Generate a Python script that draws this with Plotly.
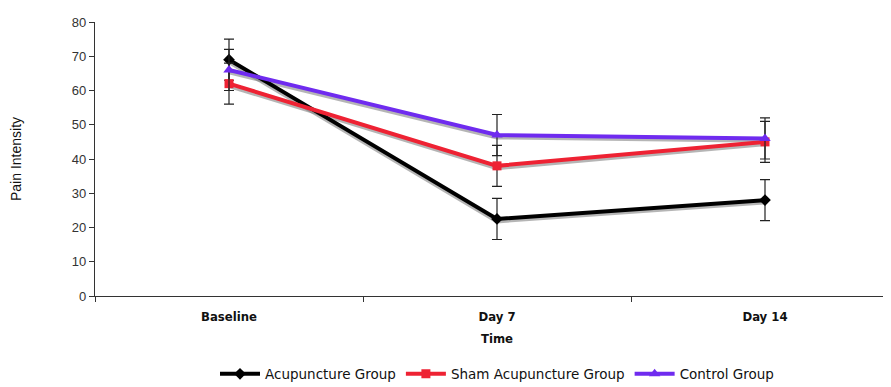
import plotly.graph_objects as go

categories = ["Baseline", "Day 7", "Day 14"]
acupuncture = [69, 22.5, 28]
acupuncture_err = [6, 6, 6]
sham = [62, 38, 45]
sham_err = [6, 6, 6]
control = [66, 47, 46]
control_err = [6, 6, 6]
y_ticks = [0, 10, 20, 30, 40, 50, 60, 70, 80]

series = [
    ("Acupuncture Group", acupuncture, acupuncture_err, "#000000", "diamond", 9),
    ("Sham Acupuncture Group", sham, sham_err, "#EE2233", "square", 9),
    ("Control Group", control, control_err, "#6F2BEF", "triangle-up", 10),
]

fig = go.Figure()

# soft gray shadows under the lines
for name, vals, err, color, sym, size in series:
    fig.add_trace(go.Scatter(
        x=categories, y=[v - 0.7 for v in vals], mode="lines",
        line=dict(color="rgba(120,120,120,0.55)", width=4),
        showlegend=False, hoverinfo="skip"))

for name, vals, err, color, sym, size in series:
    fig.add_trace(go.Scatter(
        x=categories, y=vals, name=name, mode="lines+markers",
        line=dict(color=color, width=4),
        marker=dict(symbol=sym, size=size, color=color),
        error_y=dict(type="data", array=err, visible=True,
                     color="#222222", thickness=1.2, width=5)))

fig.update_layout(
    width=891, height=387,
    margin=dict(l=87, r=0, t=14, b=99, autoexpand=False),
    paper_bgcolor="white", plot_bgcolor="white",
    font=dict(family="Liberation Sans, Arial", size=12, color="#222222"),
    showlegend=True,
    legend=dict(orientation="h", x=0.5, xanchor="center", y=-0.285, yanchor="middle",
                font=dict(family="DejaVu Sans, Verdana", size=13.5, color="#111111"),
                itemwidth=40, tracegroupgap=0, traceorder="normal"),
    xaxis=dict(type="category", range=[-0.5, 2.5], tickson="boundaries",
               ticks="outside", ticklen=5, tickcolor="#333333",
               showline=True, linecolor="#333333", linewidth=1.2,
               showgrid=False, zeroline=False, automargin=False,
               ticklabelstandoff=8,
               tickfont=dict(family="DejaVu Sans Condensed", size=13, color="#111111", weight="bold"),
               title=dict(text="<b>Time</b>", standoff=11,
                          font=dict(family="DejaVu Sans Condensed", size=13, color="#111111"))),
    yaxis=dict(range=[0, 80], tickvals=y_ticks, ticks="outside", ticklen=5,
               tickcolor="#333333", showline=True, linecolor="#333333", linewidth=1.2,
               showgrid=False, zeroline=False, automargin=False,
               tickfont=dict(family="Liberation Sans, Arial", size=13, color="#333333"),
               title=dict(text="Pain Intensity", standoff=48,
                          font=dict(family="Liberation Sans, Arial", size=14, color="#111111"))),
)

fig.write_html("out.html")
